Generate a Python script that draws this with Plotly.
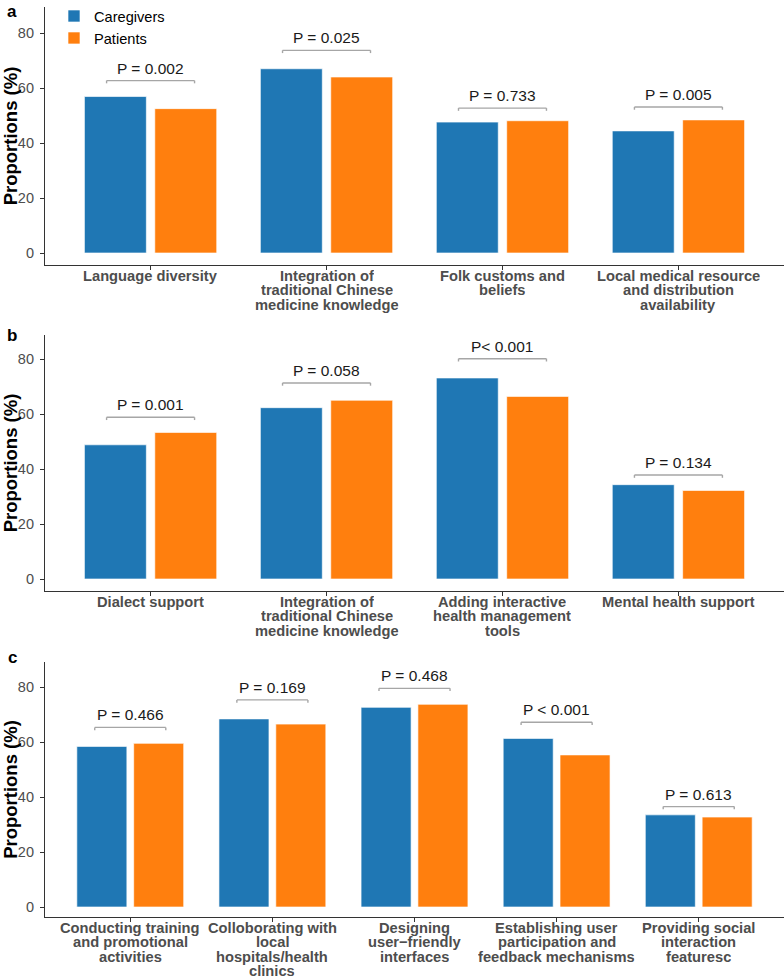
import plotly.graph_objects as go

# ---------------- data ----------------
a_categories = ["Language diversity",
                "Integration of<br>traditional Chinese<br>medicine knowledge",
                "Folk customs and<br>beliefs",
                "Local medical resource<br>and distribution<br>availability"]
a_caregivers = [56.9, 67.0, 47.6, 44.4]
a_patients = [52.5, 64.0, 48.1, 48.4]
a_pvalues = ["P = 0.002", "P = 0.025", "P = 0.733", "P = 0.005"]
a_bracket = [62.7, 73.7, 52.7, 53.1]

b_categories = ["Dialect support",
                "Integration of<br>traditional Chinese<br>medicine knowledge",
                "Adding interactive<br>health management<br>tools",
                "Mental health support"]
b_caregivers = [48.8, 62.3, 73.1, 34.3]
b_patients = [53.3, 65.0, 66.4, 32.2]
b_pvalues = ["P = 0.001", "P = 0.058", "P< 0.001", "P = 0.134"]
b_bracket = [58.8, 71.3, 80.1, 37.8]

c_categories = ["Conducting training<br>and promotional<br>activities",
                "Colloborating with<br>local<br>hospitals/health<br>clinics",
                "Designing<br>user\u2212friendly<br>interfaces",
                "Establishing user<br>participation and<br>feedback mechanisms",
                "Providing social<br>interaction<br>featuresc"]
c_caregivers = [58.4, 68.4, 72.6, 61.3, 33.5]
c_patients = [59.5, 66.5, 73.7, 55.3, 32.7]
c_pvalues = ["P = 0.466", "P = 0.169", "P = 0.468", "P < 0.001", "P = 0.613"]
c_bracket = [65.3, 75.3, 79.5, 67.2, 36.5]

y_ticks = [0, 20, 40, 60, 80]
series_names = ["Caregivers", "Patients"]

# ---------------- style ----------------
BLUE = "#1f77b4"
ORANGE = "#ff7f0e"
FONT = "Liberation Sans"
AXIS_COLOR = "#333333"
TICK_TEXT = "#4d4d4d"
W, H = 784, 978
ML = 45
PW = W - ML

panels = [
    dict(cats=a_categories, cg=a_caregivers, pt=a_patients, pv=a_pvalues, br=a_bracket,
         top=7, bottom=265, zero=253, letter="a", letter_y=0, letter_anchor="top"),
    dict(cats=b_categories, cg=b_caregivers, pt=b_patients, pv=b_pvalues, br=b_bracket,
         top=335, bottom=591, zero=579, letter="b", letter_y=335, letter_anchor="middle"),
    dict(cats=c_categories, cg=c_caregivers, pt=c_patients, pv=c_pvalues, br=c_bracket,
         top=662, bottom=917, zero=907, letter="c", letter_y=657, letter_anchor="middle"),
]
PX_PER_UNIT = 2.75
LINE_STEP = 14.4

fig = go.Figure()
annotations = []
shapes = []

for k, p in enumerate(panels):
    sfx = "" if k == 0 else str(k + 1)
    xa, ya = "x" + sfx, "y" + sfx
    n = len(p["cats"])
    idx = list(range(n))
    for name, vals, col in [(series_names[0], p["cg"], BLUE), (series_names[1], p["pt"], ORANGE)]:
        fig.add_trace(go.Bar(
            x=idx, y=vals, name=name, xaxis=xa, yaxis=ya,
            marker=dict(color=col, line=dict(color="rgba(255,255,255,0.8)", width=0.8)),
            showlegend=(k == 0), hoverinfo="skip"))

    ymin = -(p["bottom"] - p["zero"]) / PX_PER_UNIT
    ymax = (p["zero"] - p["top"]) / PX_PER_UNIT
    dom = [1 - p["bottom"] / H, 1 - p["top"] / H]

    fig.layout["xaxis" + sfx] = dict(
        domain=[0, 1], anchor=ya, range=[-0.6, n - 0.4], type="linear",
        tickvals=idx, ticktext=[""] * n, ticks="outside", ticklen=4,
        tickcolor=AXIS_COLOR, showline=True, linecolor=AXIS_COLOR, linewidth=1.2,
        showgrid=False, zeroline=False, fixedrange=True, automargin=False)
    fig.layout["yaxis" + sfx] = dict(
        domain=dom, anchor=xa, range=[ymin, ymax],
        tickvals=y_ticks, ticks="outside", ticklen=4, tickcolor=AXIS_COLOR,
        tickfont=dict(family=FONT, size=14.5, color=TICK_TEXT),
        ticklabelstandoff=3,
        showline=True, linecolor=AXIS_COLOR, linewidth=1.2,
        showgrid=False, zeroline=False, fixedrange=True, automargin=False,
        title=dict(text="Proportions (%)", standoff=6,
                   font=dict(family=FONT, size=18.5, color="black", weight="bold")))

    # category labels (tight line spacing as in the reference)
    for i, lab in enumerate(p["cats"]):
        for j, line in enumerate(lab.split("<br>")):
            annotations.append(dict(
                x=i, y=0, xref=xa, yref=ya + " domain", text=line.strip(),
                showarrow=False, xanchor="center", yanchor="middle",
                height=16, borderpad=0, valign="middle",
                yshift=-(11 + LINE_STEP * j),
                font=dict(family=FONT, size=14.7, color=TICK_TEXT, weight="bold")))

    # brackets and p-values
    tick_drop = 1.0
    for i, (yb, txt) in enumerate(zip(p["br"], p["pv"])):
        x0, x1 = i - 0.25, i + 0.25
        for (sx0, sy0, sx1, sy1) in [(x0, yb, x1, yb), (x0, yb - tick_drop, x0, yb),
                                     (x1, yb - tick_drop, x1, yb)]:
            shapes.append(dict(type="line", xref=xa, yref=ya, x0=sx0, y0=sy0, x1=sx1, y1=sy1,
                               line=dict(color="#a6a6a6", width=1.4)))
        annotations.append(dict(
            x=i, y=yb, xref=xa, yref=ya, text=txt, showarrow=False,
            xanchor="center", yanchor="bottom", yshift=2,
            font=dict(family=FONT, size=15.5, color="#1a1a1a")))

    # panel letter
    annotations.append(dict(
        x=(12 - ML) / PW, y=1 - p["letter_y"] / H, xref="paper", yref="paper",
        text=p["letter"], showarrow=False, xanchor="center", yanchor=p["letter_anchor"],
        font=dict(family=FONT, size=17, color="black", weight="bold")))

fig.update_layout(
    width=W, height=H,
    margin=dict(l=ML, r=0, t=0, b=0, autoexpand=False),
    paper_bgcolor="white", plot_bgcolor="white",
    barmode="group", bargap=0.2, bargroupgap=0.12,
    annotations=annotations, shapes=shapes,
    legend=dict(x=(54 - ML) / PW, y=1.0, xanchor="left", yanchor="top",
                bgcolor="rgba(0,0,0,0)", font=dict(family=FONT, size=14.6, color="black"),
                tracegroupgap=0, itemwidth=30),
    font=dict(family=FONT),
)

fig.write_html("out.html", config={"displayModeBar": False},
               post_script="document.body.style.margin='0';document.body.style.padding='0';")
